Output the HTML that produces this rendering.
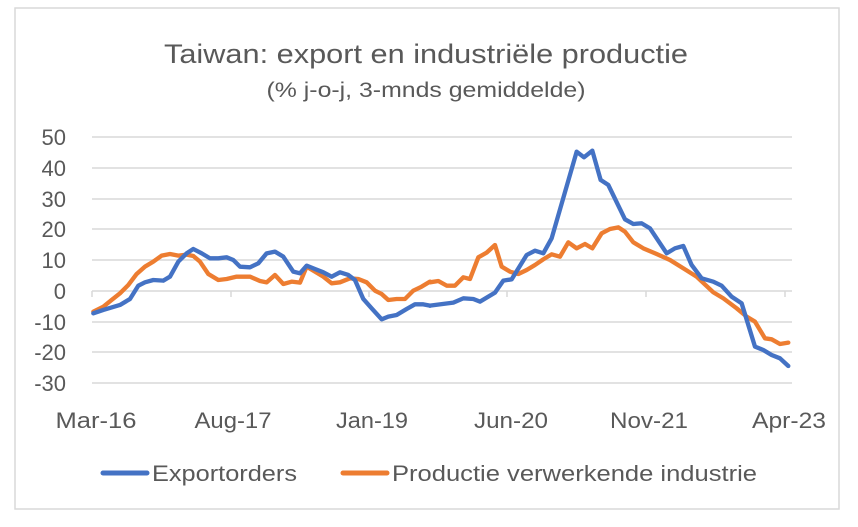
<!DOCTYPE html>
<html><head><meta charset="utf-8"><style>
html,body{margin:0;padding:0;background:#fff;}
svg{display:block;font-family:"Liberation Sans",sans-serif;}
</style></head><body>
<svg width="858" height="527" viewBox="0 0 858 527" xmlns="http://www.w3.org/2000/svg">
<rect x="0" y="0" width="858" height="527" fill="#fff"/>
<rect x="15" y="8" width="824" height="501" fill="#fff" stroke="#d9d9d9" stroke-width="1.5"/>
<text x="426" y="63" text-anchor="middle" font-size="27" fill="#595959" textLength="524" lengthAdjust="spacingAndGlyphs">Taiwan: export en industriële productie</text>
<text x="426" y="97" text-anchor="middle" font-size="21" fill="#595959" textLength="319" lengthAdjust="spacingAndGlyphs">(% j-o-j, 3-mnds gemiddelde)</text>
<g stroke="#d9d9d9" stroke-width="1.5">
<line x1="92" x2="792" y1="137" y2="137"/>
<line x1="92" x2="792" y1="168" y2="168"/>
<line x1="92" x2="792" y1="199" y2="199"/>
<line x1="92" x2="792" y1="229" y2="229"/>
<line x1="92" x2="792" y1="260" y2="260"/>
<line x1="92" x2="792" y1="291" y2="291"/>
<line x1="92" x2="792" y1="322" y2="322"/>
<line x1="92" x2="792" y1="352" y2="352"/>
<line x1="92" x2="792" y1="383" y2="383"/>
<line x1="92" x2="92" y1="291" y2="297"/>
<line x1="231" x2="231" y1="291" y2="297"/>
<line x1="369" x2="369" y1="291" y2="297"/>
<line x1="507" x2="507" y1="291" y2="297"/>
<line x1="646" x2="646" y1="291" y2="297"/>
<line x1="785" x2="785" y1="291" y2="297"/>
</g>
<g font-size="22" fill="#595959" text-anchor="end">
<text x="66" y="145">50</text>
<text x="66" y="176">40</text>
<text x="66" y="207">30</text>
<text x="66" y="237">20</text>
<text x="66" y="268">10</text>
<text x="66" y="299">0</text>
<text x="66" y="330">-10</text>
<text x="66" y="360">-20</text>
<text x="66" y="391">-30</text>
</g>
<g font-size="22" fill="#595959" text-anchor="middle">
<text x="96" y="428" textLength="81" lengthAdjust="spacingAndGlyphs">Mar-16</text>
<text x="233" y="428" textLength="77" lengthAdjust="spacingAndGlyphs">Aug-17</text>
<text x="372" y="428" textLength="72" lengthAdjust="spacingAndGlyphs">Jan-19</text>
<text x="511" y="428" textLength="74" lengthAdjust="spacingAndGlyphs">Jun-20</text>
<text x="649" y="428" textLength="78" lengthAdjust="spacingAndGlyphs">Nov-21</text>
<text x="789" y="428" textLength="74" lengthAdjust="spacingAndGlyphs">Apr-23</text>
</g>
<g fill="none" stroke-width="13" stroke-linejoin="round" stroke-linecap="round">
<g transform="translate(30,120) scale(0.3333)">
<polyline stroke="#ed7d31" points="190,575 220,560 245,540 270,520 295,495 320,462 345,440 370,425 395,407 420,402 445,407 470,404 490,408 510,425 535,462 565,480 590,477 620,470 660,470 690,483 710,487 735,465 760,492 785,485 810,488 830,440 850,452 880,470 905,490 930,487 960,475 985,477 1010,487 1035,512 1055,522 1075,540 1100,537 1125,537 1150,512 1175,500 1200,485"/>
<polyline stroke="#4472c4" points="190,580 220,570 270,555 300,537 325,497 345,487 370,480 400,482 420,470 445,425 470,400 490,387 515,400 540,415 565,415 590,412 610,420 630,440 660,442 685,430 710,400 735,395 760,410 790,455 810,460 830,437 855,447 880,457 905,470 930,457 955,465 975,480 1000,537 1025,565 1055,598 1075,590 1100,585 1130,567 1155,553 1180,553 1200,557"/>
</g>
<g transform="translate(430,120) scale(0.3333)">
<polyline stroke="#ed7d31" points="0,487 25,483 50,497 75,497 100,472 120,477 145,412 170,398 195,375 215,440 240,455 265,462 290,450 315,435 340,418 365,403 390,410 415,367 440,385 465,372 487,385 515,340 540,327 565,322 585,335 610,367 640,385 680,402 720,420 760,445 800,470 850,517 880,535 920,565 950,590 975,605 1005,655 1025,658 1050,672 1075,668"/>
<polyline stroke="#4472c4" points="0,557 70,548 100,535 130,537 150,545 195,518 220,482 245,478 290,405 315,392 340,400 365,355 440,95 462,112 487,92 512,180 535,195 585,298 610,312 635,310 660,325 710,400 735,385 760,378 785,435 815,475 850,485 875,497 905,530 935,550 975,680 1000,690 1025,705 1050,715 1075,738"/>
</g>
</g>
<line x1="103" x2="147" y1="473" y2="473" stroke="#4472c4" stroke-width="5" stroke-linecap="round"/>
<text x="152" y="481" font-size="22" fill="#595959" textLength="145" lengthAdjust="spacingAndGlyphs">Exportorders</text>
<line x1="343" x2="387" y1="473" y2="473" stroke="#ed7d31" stroke-width="5" stroke-linecap="round"/>
<text x="392" y="481" font-size="22" fill="#595959" textLength="365" lengthAdjust="spacingAndGlyphs">Productie verwerkende industrie</text>
</svg>
</body></html>
